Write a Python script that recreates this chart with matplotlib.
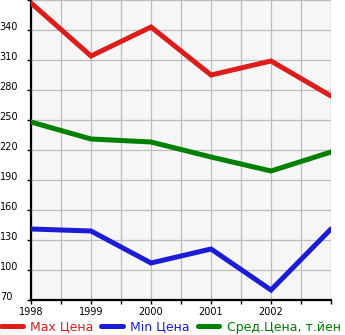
"""Price chart: max / min / average price by year."""
import matplotlib
matplotlib.use('Agg')
import matplotlib.pyplot as plt

# /* Data */
YEARS = [1998, 1999, 2000, 2001, 2002, 2003]
MAX_PRICE = [367, 314, 343, 295, 309, 274]
MIN_PRICE = [141, 139, 107, 121, 80, 141]
AVG_PRICE = [248, 231, 228, 213, 199, 218]
LABELS = ['Max Цена', 'Min Цена', 'Сред.Цена, т.йен']
COLORS = ['#dd1c1c', '#1c1cd6', '#008000']
X_LABELS = ['1998', '1999', '2000', '2001', '2002']
Y_TICKS = [70, 100, 130, 160, 190, 220, 250, 280, 310, 340, 370]

plt.rcParams['font.family'] = ['DejaVu Sans']
fig = plt.figure(figsize=(3.45, 3.35), dpi=100)
ax = fig.add_axes([31 / 345, 1 - 300 / 335, 300 / 345, 300 / 335])
ax.set_facecolor('#f6f6f6')

series = [MAX_PRICE, MIN_PRICE, AVG_PRICE]
for vals, lab, col in zip(series, LABELS, COLORS):
    ax.plot(YEARS, vals, '-', color=col, lw=3.6, label=lab,
            solid_capstyle='round', solid_joinstyle='miter', zorder=3)

ax.set_xlim(1998, 2003)
ax.set_ylim(70, 370)

# x ticks every half year, labels only on whole years
half = [1998 + i * 0.5 for i in range(11)]
ax.set_xticks(half)
ax.set_xticklabels([X_LABELS[i // 2] if i % 2 == 0 and i // 2 < len(X_LABELS) else ''
                    for i in range(11)], fontsize=7)
ax.set_yticks(Y_TICKS)
ax.set_yticklabels([str(v) if v < 370 else '' for v in Y_TICKS], fontsize=7)
for lbl in ax.get_yticklabels():
    lbl.set_horizontalalignment('left')
    lbl.set_verticalalignment('baseline')
ax.tick_params(axis='y', length=3, width=1, pad=19.5, direction='out')
ax.tick_params(axis='x', length=3, width=1, pad=2, direction='out')

ax.grid(True, color='#bdbdbd', lw=0.9)
ax.set_axisbelow(True)
for side in ['top', 'right']:
    ax.spines[side].set_visible(False)
for side in ['left', 'bottom']:
    ax.spines[side].set_linewidth(1.6)
    ax.spines[side].set_color('black')

leg = fig.legend(loc='lower left', bbox_to_anchor=(-0.005, -0.003), ncol=3,
                 frameon=False, fontsize=9, handlelength=1.75,
                 handletextpad=0.6, columnspacing=0.6, borderpad=0.2,
                 borderaxespad=0)
for txt, col in zip(leg.get_texts(), COLORS):
    txt.set_color(col)

fig.savefig('out.png', dpi=100)
